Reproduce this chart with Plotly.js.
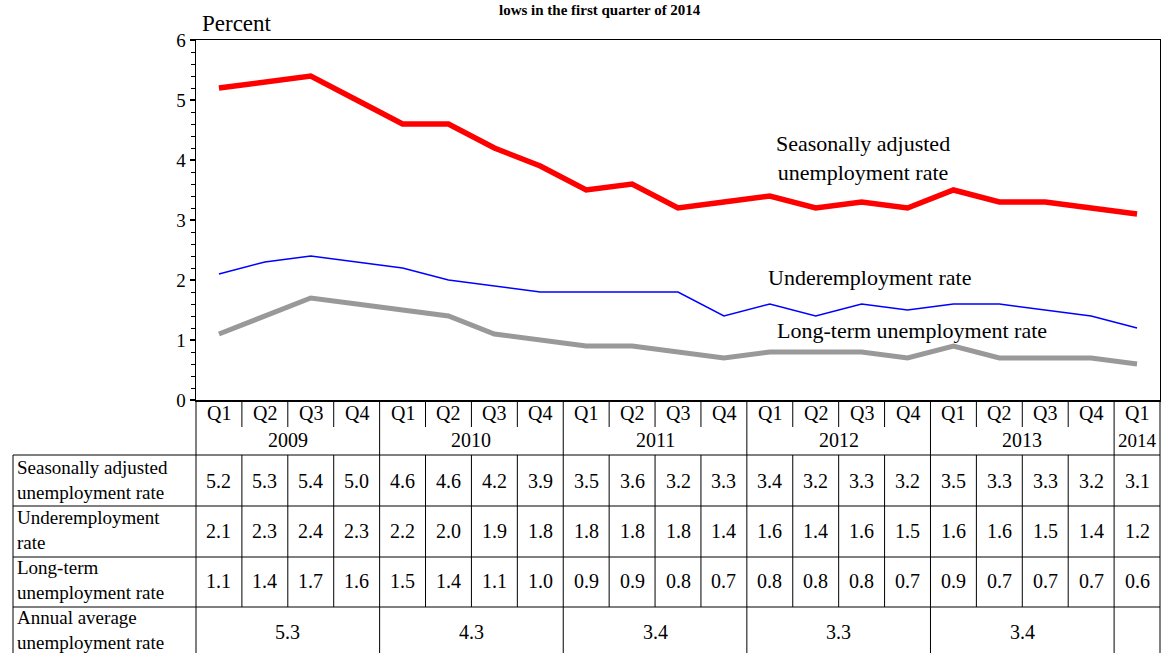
<!DOCTYPE html>
<html>
<head>
<meta charset="utf-8">
<script src="https://cdn.plot.ly/plotly-3.0.1.min.js"></script>
<style>html,body{margin:0;padding:0;background:#fff;}#chart{width:1161px;height:653px;}</style>
</head>
<body>
<div id="chart"></div>
<script>
const quarters = ['Q1','Q2','Q3','Q4','Q1','Q2','Q3','Q4','Q1','Q2','Q3','Q4','Q1','Q2','Q3','Q4','Q1','Q2','Q3','Q4','Q1'];
const years = ['2009','2010','2011','2012','2013','2014'];
const yearSpans = [4,4,4,4,4,1];
const seasonal = [5.2,5.3,5.4,5.0,4.6,4.6,4.2,3.9,3.5,3.6,3.2,3.3,3.4,3.2,3.3,3.2,3.5,3.3,3.3,3.2,3.1];
const underemp = [2.1,2.3,2.4,2.3,2.2,2.0,1.9,1.8,1.8,1.8,1.8,1.4,1.6,1.4,1.6,1.5,1.6,1.6,1.5,1.4,1.2];
const longterm = [1.1,1.4,1.7,1.6,1.5,1.4,1.1,1.0,0.9,0.9,0.8,0.7,0.8,0.8,0.8,0.7,0.9,0.7,0.7,0.7,0.6];
const annualAvg = ['5.3','4.3','3.4','3.3','3.4',''];
const rowLabels = ['Seasonally adjusted<br>unemployment rate','Underemployment<br>rate','Long-term<br>unemployment rate','Annual average<br>unemployment rate'];
const seriesNames = ['Seasonally adjusted<br>unemployment rate','Underemployment rate','Long-term unemployment rate'];
const titleText = 'lows in the first quarter of 2014';

// layout geometry (pixels)
const W = 1161, H = 653;
const L = 196, R = 1160, T = 40, B = 400;
const PW = R - L, PH = B - T;
const px = v => (v - L) / PW;       // pixel x -> paper
const py = v => (B - v) / PH;       // pixel y -> paper
const n = quarters.length;
const xs = quarters.map((q, i) => i);
const FONT = 'Liberation Serif, Times New Roman, serif';

const traces = [
  {x: xs, y: seasonal, mode: 'lines', line: {color: '#ff0000', width: 5.5}, name: 'Seasonally adjusted unemployment rate', hoverinfo: 'y'},
  {x: xs, y: underemp, mode: 'lines', line: {color: '#0000ff', width: 1.5}, name: 'Underemployment rate', hoverinfo: 'y'},
  {x: xs, y: longterm, mode: 'lines', line: {color: '#999999', width: 5}, name: 'Long-term unemployment rate', hoverinfo: 'y'}
];

const shapes = [];
const line = (x0, y0, x1, y1, w) => shapes.push({type: 'line', xref: 'paper', yref: 'paper', x0: x0, y0: y0, x1: x1, y1: y1, line: {color: '#000', width: w || 1}});

const yearBounds = [0];
yearSpans.forEach(s => yearBounds.push(yearBounds[yearBounds.length - 1] + s));
for (let i = 0; i <= n; i++) {
  const xp = i / n;
  const isYear = yearBounds.includes(i);
  if (isYear) {
    line(xp, py(400), xp, py(455));
    line(xp, py(455), xp, py(607));
    line(xp, py(607), xp, py(670));
  } else {
    line(xp, py(400), xp, py(427));
    line(xp, py(455), xp, py(607));
  }
}
[455, 506, 557, 607].forEach(v => line(px(13), py(v), 1, py(v)));
line(px(13), py(455), px(13), py(670));

const annotations = [];
const TS = 20;
const txt = (x, xref, y, text, opts) => annotations.push(Object.assign({x: x, xref: xref, y: y, yref: 'paper', text: text, showarrow: false, font: {family: FONT, size: TS, color: '#000'}, xanchor: 'center', yanchor: 'middle'}, opts || {}));

quarters.forEach((q, i) => txt(i, 'x', py(413), q));
let start = 0;
years.forEach((yv, k) => {
  const c = start + (yearSpans[k] - 1) / 2;
  txt(c, 'x', py(440), yv, yearSpans[k] === 1 ? {font: {family: FONT, size: 19, color: '#000'}} : {});
  txt(c, 'x', py(632), annualAvg[k]);
  start += yearSpans[k];
});
[seasonal, underemp, longterm].forEach((arr, r) => {
  const cy = [481, 531, 581][r];
  arr.forEach((v, i) => txt(i, 'x', py(cy), v.toFixed(1)));
});
rowLabels.forEach((lab, r) => {
  const cy = [480, 530, 580, 630][r];
  txt(px(15), 'paper', py(cy), lab, {xanchor: 'left', align: 'left', font: {family: FONT, size: 19, color: '#000'}});
});

// series labels
const SL = {family: FONT, size: 22, color: '#000'};
txt(14.03, 'x', py(158), seriesNames[0], {font: SL});
txt(14.18, 'x', py(277), seriesNames[1], {font: SL});
txt(15.1, 'x', py(330), seriesNames[2], {font: SL});

// axis title & chart title (shown at very top)
txt(px(200), 'paper', py(24), 'Percent', {xanchor: 'left', font: {family: FONT, size: 23, color: '#000'}});
txt(px(600), 'paper', py(0), '<b>' + titleText + '</b>', {yanchor: 'top', font: {family: FONT, size: 15, color: '#000'}});

const layout = {
  width: W, height: H,
  margin: {l: L, r: W - R, t: T, b: H - B, pad: 0},
  paper_bgcolor: '#fff', plot_bgcolor: '#fff',
  showlegend: false,
  font: {family: FONT, size: 20, color: '#000'},
  xaxis: {range: [-0.5, n - 0.5], showgrid: false, zeroline: false, showticklabels: false, ticks: '',
          showline: true, mirror: true, linecolor: '#000', linewidth: 1.5, fixedrange: true},
  yaxis: {range: [0, 6], dtick: 1, showgrid: false, zeroline: false, ticks: 'outside', ticklen: 5, tickwidth: 1.5, tickcolor: '#000',
          minor: {dtick: 0.2, ticks: 'outside', ticklen: 4, tickwidth: 1, tickcolor: '#000'},
          showline: true, mirror: true, linecolor: '#000', linewidth: 1.5, tickfont: {family: FONT, size: 19, color: '#000'}, fixedrange: true},
  shapes: shapes,
  annotations: annotations
};

Plotly.newPlot('chart', traces, layout, {displayModeBar: false, staticPlot: true});
</script>
</body>
</html>
